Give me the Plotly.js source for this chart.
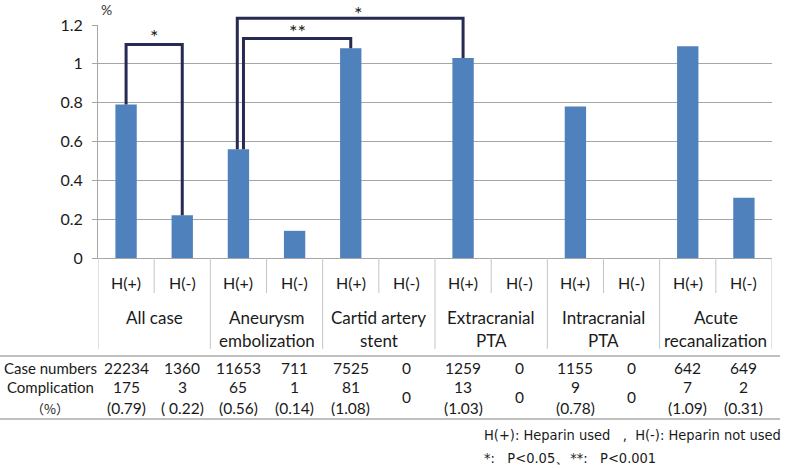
<!DOCTYPE html>
<html><head><meta charset="utf-8">
<script src="https://cdn.plot.ly/plotly-3.0.1.min.js"></script>
<style>body{margin:0;background:#fff}</style>
</head><body><div id="chart" style="width:789px;height:468px"></div>
<script>
// ---- data ----
const groups = ["All case", "Aneurysm\nembolization", "Cartid artery\nstent", "Extracranial\nPTA", "Intracranial\nPTA", "Acute\nrecanalization"];
const heparinLabels = ["H(+)", "H(-)"];
const complicationRate = [0.79, 0.22, 0.56, 0.14, 1.08, 0, 1.03, 0, 0.78, 0, 1.09, 0.31];
const caseNumbers = ["22234", "1360", "11653", "711", "7525", "0", "1259", "0", "1155", "0", "642", "649"];
const complicationCount = ["175", "3", "65", "1", "81", "0", "13", "0", "9", "0", "7", "2"];
const complicationPct = ["(0.79)", "( 0.22)", "(0.56)", "(0.14)", "(1.08)", "", "(1.03)", "", "(0.78)", "", "(1.09)", "(0.31)"];
const rowLabels = ["Case numbers", "Complication", "（%）"];
const bracketFrom = [0, 2, 2];
const bracketTo = [1, 4, 6];
const bracketLevel = [1.10, 1.13, 1.235];
const bracketLabel = ["*", "**", "*"];
const footnotes = ["H(+):\u00a0Heparin used\u00a0\u00a0 , \u00a0H(-):\u00a0Heparin not used", "*:\u00a0\u00a0 P&lt;0.05、**:\u00a0\u00a0 P&lt;0.001"];
const yMax = 1.2;

// ---- build ----
const n = complicationRate.length;
const idx = complicationRate.map((_, i) => i);
const FONT = "Lato, 'Open Sans', sans-serif";
const txt = '#1a1a1a';
const annotations = [];
const shapes = [];
const rowY = [-0.472, -0.554, -0.644];

idx.forEach(i => {
  annotations.push({x: i, y: -0.107, xref: 'x', yref: 'paper', text: heparinLabels[i % 2], showarrow: false,
    font: {family: FONT, size: 16, color: txt}, xanchor: 'center', yanchor: 'middle'});
  annotations.push({x: i, y: rowY[0], xref: 'x', yref: 'paper', text: caseNumbers[i], showarrow: false,
    font: {family: FONT, size: 15.5, color: txt}, xanchor: 'center', yanchor: 'middle'});
  const hasPct = complicationPct[i] !== "";
  annotations.push({x: i, y: hasPct ? rowY[1] : -0.597, xref: 'x', yref: 'paper', text: complicationCount[i], showarrow: false,
    font: {family: FONT, size: 15.5, color: txt}, xanchor: 'center', yanchor: 'middle'});
  if (hasPct) annotations.push({x: i, y: rowY[2], xref: 'x', yref: 'paper', text: complicationPct[i], showarrow: false,
    font: {family: FONT, size: 15.5, color: txt}, xanchor: 'center', yanchor: 'middle'});
});
for (let k = 0; k <= n; k++) {
  const long = k % 2 === 0;
  shapes.push({type: 'line', xref: 'x', yref: 'paper', x0: k - 0.5, x1: k - 0.5, y0: 0, y1: long ? -0.39 : -0.15,
    line: {color: '#c4c4c4', width: 1}});
}
groups.forEach((g, gi) => {
  const lines = g.split("\n");
  lines.forEach((ln, li) => {
    annotations.push({x: gi * 2 + 0.5, y: li === 0 ? -0.2575 : -0.352, xref: 'x', yref: 'paper', text: ln, showarrow: false,
      font: {family: FONT, size: 17, color: txt}, xanchor: 'center', yanchor: 'middle'});
  });
});
rowLabels.forEach((r, ri) => {
  annotations.push({x: -0.0712, y: rowY[ri], xref: 'paper', yref: 'paper', text: r, showarrow: false,
    font: {family: ri === 2 ? "'Noto Sans CJK JP', sans-serif" : FONT, size: ri === 2 ? 13 : 15, color: txt},
    xanchor: 'center', yanchor: 'middle'});
});
[-0.4206, -0.691].forEach(yy => shapes.push({type: 'line', xref: 'paper', yref: 'paper', x0: -0.1454, x1: 1.012, y0: yy, y1: yy,
  line: {color: '#c0c0c0', width: 2}}));
[-0.760, -0.858].forEach((yy, k) => annotations.push({x: 0.5697, y: yy, xref: 'paper', yref: 'paper', text: footnotes[k],
  showarrow: false, xanchor: 'left', yanchor: 'middle',
  font: {family: "'Liberation Sans Narrow', 'DejaVu Sans Condensed', sans-serif", size: 14.5, color: txt}}));
annotations.push({x: 0.0119, y: 1.068, xref: 'paper', yref: 'paper', text: '%', showarrow: false,
  font: {family: FONT, size: 14, color: '#333'}, xanchor: 'center', yanchor: 'middle'});
const fromOffset = [0, 0.09, -0.02];
const labelShift = [-6, -6, -9];
bracketFrom.forEach((f, b) => {
  const x0 = f + fromOffset[b], x1 = bracketTo[b];
  const y0 = complicationRate[f] / yMax, y1 = complicationRate[bracketTo[b]] / yMax, yl = bracketLevel[b] / yMax;
  shapes.push({type: 'path', xref: 'x', yref: 'paper', layer: 'above',
    path: `M${x0},${y0} L${x0},${yl} L${x1},${yl} L${x1},${y1}`, line: {color: '#272b52', width: 3}});
  annotations.push({x: (x0 + x1) / 2 + (b === 2 ? 0.15 : 0), y: yl, xref: 'x', yref: 'paper', text: bracketLabel[b], showarrow: false,
    xanchor: 'center', yanchor: 'bottom', yshift: labelShift[b], font: {family: FONT, size: 20, color: txt}});
});

const trace = {type: 'bar', x: idx, y: complicationRate, width: 0.38, marker: {color: '#4f81bd'}, hoverinfo: 'skip'};
const layout = {
  width: 789, height: 468, margin: {l: 98, r: 17, t: 25, b: 210},
  paper_bgcolor: '#fff', plot_bgcolor: '#fff', showlegend: false,
  xaxis: {range: [-0.5, n - 0.5], showticklabels: false, ticks: '', showgrid: false, zeroline: false,
    showline: true, linecolor: '#a6a6a6', linewidth: 1, fixedrange: true},
  yaxis: {range: [0, yMax], tickvals: [0, 0.2, 0.4, 0.6, 0.8, 1, 1.2], ticktext: ["0", "0.2", "0.4", "0.6", "0.8", "1", "1.2"],
    showgrid: true, gridcolor: '#a6a6a6', gridwidth: 1, zeroline: false,
    showline: true, linecolor: '#a6a6a6', ticks: 'outside', ticklen: 5, tickcolor: '#a6a6a6', ticklabelstandoff: 6,
    tickfont: {family: FONT, size: 16, color: txt}, fixedrange: true},
  annotations, shapes
};
Plotly.newPlot('chart', [trace], layout, {displayModeBar: false, staticPlot: true});
</script></body></html>
